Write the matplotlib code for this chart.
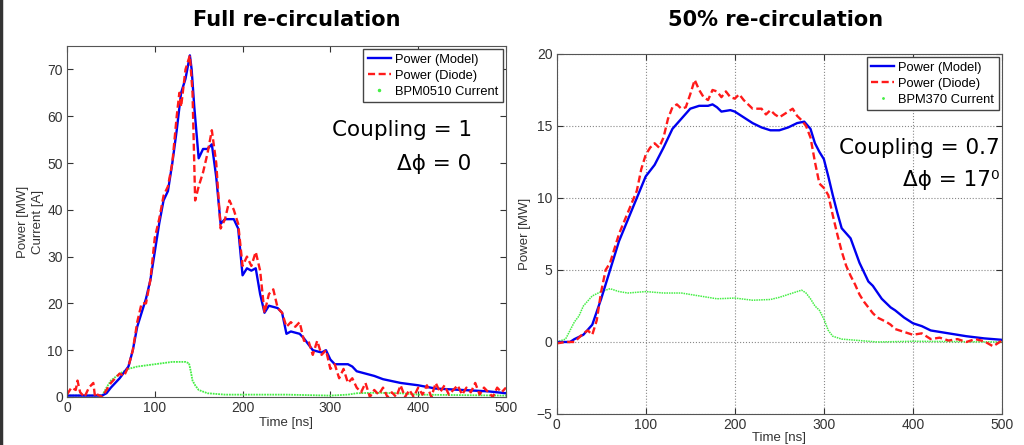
import matplotlib.pyplot as plt
from matplotlib.lines import Line2D

# ---- left panel: full re-circulation ----
t_model_l = [0, 20, 40, 45, 50, 60, 70, 75, 80, 85, 90, 95, 100, 105, 110, 115, 120, 125, 130, 135,
             140, 142, 145, 150, 155, 160, 165, 170, 175, 180, 190, 195, 200, 205, 210, 215, 220,
             225, 230, 240, 245, 250, 255, 265, 270, 280, 290, 295, 300, 305, 320, 325, 330, 350,
             360, 380, 400, 420, 450, 480, 500]
p_model_l = [0.3, 0.3, 0.3, 0.8, 2, 4, 6.5, 10, 15, 18, 21, 25, 31, 37, 42, 44, 50, 57, 65, 68,
             73, 70, 62, 51, 53, 53, 54, 47, 37, 38, 38, 36, 26, 27.5, 27, 27.5, 22,
             18, 19.5, 19, 18, 13.5, 14, 13.5, 12.5, 10, 9.5, 10, 8, 7, 7, 6.5, 5.5, 4.5,
             3.8, 3, 2.5, 1.8, 1.5, 1.2, 0.8]

t_diode_l = [0, 5, 10, 12, 15, 20, 25, 30, 32, 35, 40, 45, 50, 55, 60, 65, 70, 75, 80, 85, 90, 95,
             100, 105, 110, 115, 120, 125, 128, 130, 135, 140, 143, 146, 150, 155, 160, 165, 170,
             175, 180, 185, 190, 195, 200, 205, 210, 215, 220, 225, 230, 235, 240, 245, 250, 255,
             260, 265, 270, 275, 280, 285, 290, 295, 300, 305, 310, 315, 320, 325, 330, 335, 340,
             345, 350, 355, 360, 365, 370, 375, 380, 385, 390, 395, 400, 405, 410, 415, 420, 425,
             430, 435, 440, 445, 450, 455, 460, 465, 470, 475, 480, 485, 490, 495, 500]
p_diode_l = [0.5, 2, 1.5, 3.5, 1, 0, 2, 3, 0, 0.5, 0, 1.5, 3, 4, 5, 4.5, 6.5, 10, 16, 20, 20, 25,
             34, 38, 43, 45, 50, 60, 65, 62, 70, 73, 65, 42, 45, 48, 52, 57, 50,
             36, 38, 42, 40, 37, 28, 30, 28, 31, 27, 18, 22, 23, 19, 18, 15, 16,
             15, 16, 12, 12, 9, 12, 9, 10, 6, 7, 4, 6, 3, 4, 2, 1, 3,
             0, 1.5, 0.5, 2, 0, 1, 0, 2.5, 0, 1.5, 0, 2, 0.5, 2.5, 0, 3, 1,
             2.5, 0.5, 1.5, 2.5, 0.5, 2, 1, 3, 0.5, 2, 1, 0, 2, 1, 2]

t_bpm_l = [0, 40, 45, 50, 60, 70, 80, 100, 120, 135, 139, 141, 143, 146, 150, 160, 180, 200, 250,
           300, 320, 330, 350, 380, 400, 450, 500]
i_bpm_l = [0.3, 0.3, 2, 3.5, 5, 6, 6.5, 7, 7.5, 7.5, 7.2, 5.5, 3.5, 2.5, 1.5, 0.8, 0.5, 0.5, 0.5,
           0.3, 0.5, 0.8, 0.9, 0.8, 0.5, 0.4, 0.3]

# ---- right panel: 50% re-circulation ----
t_model_r = [0, 15, 20, 30, 40, 50, 60, 70, 80, 90, 100, 110, 120, 130, 140, 150, 160, 170, 175,
             180, 185, 195, 200, 210, 220, 230, 240, 250, 260, 270, 278, 285, 290, 295, 300, 305,
             310, 315, 320, 330, 340, 350, 355, 365, 375, 380, 390, 400, 410, 420, 440, 460, 480,
             500]
p_model_r = [0, 0, 0.2, 0.5, 1.2, 3, 5, 7, 8.5, 10, 11.5, 12.3, 13.5, 14.8, 15.5, 16.2, 16.4, 16.4,
             16.5, 16.3, 16, 16.1, 16, 15.6, 15.2, 14.9, 14.7, 14.7, 14.9, 15.2, 15.3, 14.8, 13.8,
             13.2, 12.7, 11.5, 10.2, 9, 7.9, 7.2, 5.5, 4.2, 3.9, 3.0, 2.4, 2.2, 1.7, 1.3, 1.1, 0.8,
             0.6, 0.4, 0.25, 0.15]

t_diode_r = [0, 10, 20, 25, 30, 35, 40, 45, 50, 55, 60, 65, 70, 80, 90, 95, 100, 105, 110, 115,
             120, 125, 130, 135, 140, 145, 150, 155, 160, 165, 170, 175, 180, 185, 190, 195, 200,
             205, 210, 215, 220, 230, 235, 240, 245, 250, 255, 260, 265, 270, 275, 280, 285, 290,
             295, 300, 305, 310, 315, 320, 325, 330, 335, 340, 345, 350, 355, 360, 370, 375, 380,
             390, 400, 410, 420, 430, 440, 450, 460, 470, 480, 490, 500]
p_diode_r = [-0.1, 0, 0, 0.3, 0.6, 0.8, 0.5, 1.5, 3.5, 5, 5.5, 6.5, 7.5, 9, 10.5, 12, 13, 13.5,
             13.8, 13.5, 14.2, 15.5, 16.3, 16.5, 16.2, 16.3, 17.2, 18.2, 17.5, 17, 16.8, 17.5,
             17.4, 17, 17.4, 17, 16.9, 17.2, 16.8, 16.5, 16.2, 16.2, 15.8, 16.1, 15.8, 15.6, 15.8,
             16, 16.2, 15.7, 15.4, 15, 14.2, 12.5, 11, 10.7, 10.2, 8.8, 7.5, 6.3, 5.3, 4.6, 4,
             3.3, 2.8, 2.4, 2.0, 1.7, 1.4, 1.2, 0.9, 0.7, 0.5, 0.6, 0.2, 0.3, 0.1, 0.2, 0.0, 0.2,
             0.05, -0.3, 0.1]

t_bpm_r = [0, 10, 15, 20, 25, 30, 40, 50, 55, 60, 70, 80, 100, 120, 140, 160, 180, 200, 220, 240,
           250, 260, 270, 275, 280, 285, 290, 295, 300, 305, 310, 320, 340, 360, 400, 500]
i_bpm_r = [0, 0.2, 0.8, 1.4, 1.8, 2.5, 3.2, 3.5, 3.6, 3.7, 3.5, 3.4, 3.5, 3.4, 3.4, 3.2, 3.0,
           3.05, 2.9, 2.95, 3.1, 3.3, 3.5, 3.6, 3.4, 3.0, 2.5, 2.2, 1.6, 0.8, 0.4, 0.2, 0.1, 0.0,
           0.05, 0.0]

blue = '#0000f0'
red = '#ff1a1a'
green = '#44ee44'
tick_font = 'Liberation Sans'

fig = plt.figure(figsize=(10.24, 4.45), dpi=100)
fig.patch.set_facecolor('white')
fig.add_artist(Line2D([0.001, 0.001], [0, 1], color='#333333', lw=2.5))

ax1 = fig.add_axes([0.0654, 0.1079, 0.4287, 0.7887])
ax2 = fig.add_axes([0.5436, 0.0697, 0.4349, 0.809])


def style(ax):
    ax.tick_params(direction='in', top=True, right=True, labelsize=10, colors='#333333',
                   length=4, pad=3)
    for lbl in ax.get_xticklabels() + ax.get_yticklabels():
        lbl.set_family(tick_font)
    for s in ax.spines.values():
        s.set_color('#555555')
        s.set_linewidth(0.8)


leg_kw = dict(loc='upper right', prop={'family': tick_font, 'size': 9.3}, fancybox=False,
              edgecolor='#444444', framealpha=1, handlelength=1.8, handletextpad=0.3,
              borderpad=0.35, labelspacing=0.3, borderaxespad=0.25)

ax1.plot(t_bpm_l, i_bpm_l, color=green, lw=1.3, ls=(0, (1, 0.5)))
ax1.plot(t_model_l, p_model_l, color=blue, lw=1.7)
ax1.plot(t_diode_l, p_diode_l, color=red, lw=1.7, ls=(0, (3, 1.5)))
ax1.set_xlim(0, 500)
ax1.set_ylim(0, 75)
ax1.set_xticks([0, 100, 200, 300, 400, 500])
ax1.set_yticks([0, 10, 20, 30, 40, 50, 60, 70])
style(ax1)
ax1.set_xlabel('Time [ns]', fontsize=9.5, family=tick_font, color='#333333', labelpad=1)
ax1.set_ylabel('Power [MW]\nCurrent [A]', fontsize=9.5, family=tick_font, color='#333333',
               labelpad=2, linespacing=1.35)
h1 = [Line2D([], [], color=blue, lw=1.7),
      Line2D([], [], color=red, lw=1.7, ls=(0, (3, 1.5))),
      Line2D([], [], color=green, marker='.', ms=3, ls='none')]
ax1.legend(h1, ['Power (Model)', 'Power (Diode)', 'BPM0510 Current'], **leg_kw)
ax1.text(0.922, 0.76, 'Coupling = 1', transform=ax1.transAxes, ha='right', va='center',
         fontsize=15.5)
ax1.text(0.922, 0.665, '\u0394\u03d5 = 0', transform=ax1.transAxes, ha='right', va='center',
         fontsize=15.5)

ax2.plot(t_bpm_r, i_bpm_r, color=green, lw=1.1, ls=(0, (1, 0.6)))
ax2.plot(t_model_r, p_model_r, color=blue, lw=1.7)
ax2.plot(t_diode_r, p_diode_r, color=red, lw=1.7, ls=(0, (3, 1.5)))
ax2.set_xlim(0, 500)
ax2.set_ylim(-5, 20)
ax2.set_xticks([0, 100, 200, 300, 400, 500])
ax2.set_yticks([-5, 0, 5, 10, 15, 20])
ax2.grid(True, ls=':', color='#888888', lw=0.8)
style(ax2)
ax2.set_xlabel('Time [ns]', fontsize=9.5, family=tick_font, color='#333333', labelpad=0)
ax2.set_ylabel('Power [MW]', fontsize=9.5, family=tick_font, color='#333333', labelpad=4)
h2 = [Line2D([], [], color=blue, lw=1.7),
      Line2D([], [], color=red, lw=1.7, ls=(0, (3, 1.5))),
      Line2D([], [], color=green, marker='.', ms=2, ls='none')]
ax2.legend(h2, ['Power (Model)', 'Power (Diode)', 'BPM370 Current'], **leg_kw)
ax2.text(0.995, 0.74, 'Coupling = 0.7', transform=ax2.transAxes, ha='right', va='center',
         fontsize=15.5)
ax2.text(0.995, 0.65, '\u0394\u03d5 = 17\u2070', transform=ax2.transAxes, ha='right',
         va='center', fontsize=15.5)

fig.text(0.29, 0.955, 'Full re-circulation', ha='center', va='center', fontsize=15,
         fontweight='bold')
fig.text(0.757, 0.955, '50% re-circulation', ha='center', va='center', fontsize=15,
         fontweight='bold')

fig.savefig('out.png', dpi=100)
